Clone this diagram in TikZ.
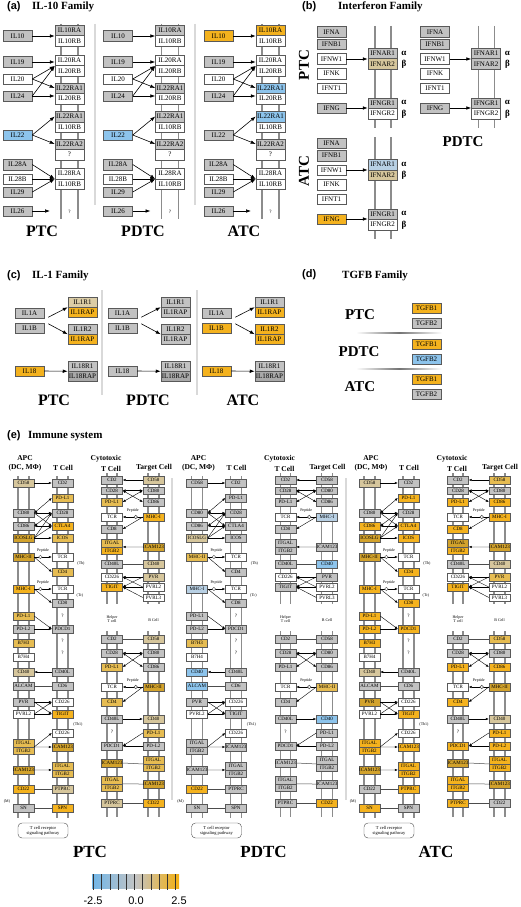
\documentclass[tikz,border=0pt]{standalone}
\usepackage{fontspec}
\setmainfont{Liberation Serif}
\newfontfamily\arial{Liberation Sans}
\usetikzlibrary{arrows.meta,calc}
\definecolor{cG}{HTML}{C2C2C2}
\definecolor{cGd}{HTML}{A9A9A9}
\definecolor{cO1}{HTML}{F4B21E}
\definecolor{cO2}{HTML}{E6BC52}
\definecolor{cO3}{HTML}{D2A22C}
\definecolor{cT}{HTML}{D6C69C}
\definecolor{cTL}{HTML}{DCCDA6}
\definecolor{cB}{HTML}{8DC4EC}
\definecolor{cLB}{HTML}{B8D0E4}
\definecolor{cW}{HTML}{FFFFFF}
\definecolor{cbB}{HTML}{70B6E8}
\definecolor{cbG}{HTML}{C4C4C4}
\definecolor{cbO}{HTML}{F4B010}
\tikzset{
 bx/.style={draw=black!65, line width=0.5pt, minimum width=29pt, minimum height=10.5pt, inner sep=0pt, font=\fontsize{7}{7}\selectfont},
 ib/.style={draw=black!65, line width=0.4pt, minimum width=21pt, minimum height=7.5pt, inner sep=0pt, font=\fontsize{5}{5}\selectfont},
 mem/.style={draw=black!45, line width=1.8pt},
 memi/.style={draw=black!45, line width=1.3pt},
 ar/.style={-{Latex[length=5pt,width=3.6pt]}, line width=0.6pt},
 ai/.style={-{Latex[length=3pt,width=2.4pt]}, line width=0.4pt},
 aib/.style={{Latex[length=3pt,width=2.4pt]}-{Latex[length=3pt,width=2.4pt]}, line width=0.4pt},
 ln/.style={line width=0.5pt, draw=black!70},
 pc/.style={circle, draw=black!70, fill=white, inner sep=0pt, minimum size=3.5pt, line width=0.4pt},
 big/.style={font=\fontsize{16}{16}\selectfont\bfseries, inner sep=0pt},
 ttl/.style={font=\fontsize{11}{11}\selectfont\bfseries, anchor=west, inner sep=0pt},
 plab/.style={font=\arial\bfseries\fontsize{11}{11}\selectfont, anchor=west, inner sep=0pt},
 tiny/.style={font=\fontsize{4}{4.5}\selectfont, inner sep=0pt},
 qm/.style={font=\fontsize{5}{5}\selectfont, inner sep=0pt},
 hdr/.style={font=\fontsize{7.5}{8}\selectfont\bfseries, inner sep=0pt},
 ab/.style={font=\fontsize{9}{9}\selectfont\bfseries, inner sep=0pt},
 sep/.style={draw=black!15, line width=1.2pt}
}
\newcommand\setcols[1]{\foreach \n/\c in {#1}{\xglobal\colorlet{q\n}{\c}}}
\newcommand\pepR[2]{\draw[ai] (#1.east) -- (#2.west);
 \node[pc] at ($(#1.east)!0.35!(#2.west)$) {};
 \node[tiny] at ($(#1.east)!0.5!(#2.west)+(0,-6.5)$) {Peptide};}
\newcommand\pepL[2]{\draw[ai] (#1.west) -- (#2.east);
 \node[pc] at ($(#1.west)!0.35!(#2.east)$) {};
 \node[tiny] at ($(#1.west)!0.5!(#2.east)+(0,-6.5)$) {Peptide};}
% ---------- panel a
\newcommand\panelA[7]{%
\begin{scope}[shift={(#2,0)}]
\draw[mem] (61,24) -- (61,219); \draw[mem] (78,24) -- (78,219);
\node[bx,fill=#3] (#1l10) at (17.5,36) {IL10};
\node[bx,fill=cG] (#1l19) at (17.5,62) {IL19};
\node[bx,fill=white] (#1l20) at (17.5,79) {IL20};
\node[bx,fill=cG] (#1l24) at (17.5,96) {IL24};
\node[bx,fill=#7] (#1l22) at (17.5,135) {IL22};
\node[bx,fill=cG] (#1l28a) at (17.5,164.5) {IL28A};
\node[bx,fill=white] (#1l28b) at (17.5,179) {IL28B};
\node[bx,fill=cG] (#1l29) at (17.5,192) {IL29};
\node[bx,fill=cG] (#1l26) at (17.5,211) {IL26};
\node[bx,fill=#4] (#1r1) at (69.5,30.25) {IL10RA};
\node[bx,fill=white] (#1r2) at (69.5,40.75) {IL10RB};
\node[bx,fill=white] (#1r3) at (69.5,60.5) {IL20RA};
\node[bx,fill=white] (#1r4) at (69.5,71) {IL20RB};
\node[bx,fill=#5] (#1r5) at (69.5,88) {IL22RA1};
\node[bx,fill=white] (#1r6) at (69.5,98.5) {IL20RB};
\node[bx,fill=#6] (#1r7) at (69.5,116.5) {IL22RA1};
\node[bx,fill=white] (#1r8) at (69.5,127) {IL10RB};
\node[bx,fill=cG] (#1r9) at (69.5,144) {IL22RA2};
\node[bx,fill=white] (#1r10) at (69.5,154.5) {?};
\node[bx,fill=white] (#1r11) at (69.5,173.5) {IL28RA};
\node[bx,fill=white] (#1r12) at (69.5,184) {IL10RB};
\node[qm] (#1q) at (69.5,212) {?};
\coordinate (#1e26) at (50,211);
\draw[ar] (#1l10.east) -- (#1l10.east -| #1r1.west);
\draw[ar] (#1l19.east) -- (#1l19.east -| #1r3.west);
\draw[ar] (#1l20.east) -- (#1r3.south west);
\draw[ar] (#1l20.east) -- (#1r5.west);
\draw[ar] (#1l24.east) -- (#1r3.south west);
\draw[ar] (#1l24.east) -- (#1l24.east -| #1r6.west);
\draw[ar] (#1l22.east) -- (#1r7.west);
\draw[ar] (#1l22.east) -- (#1r9.west);
\draw[ar] (#1l28a.east) -- (#1r11.south west);
\draw[ar] (#1l28b.east) -- (#1r11.south west);
\draw[ar] (#1l29.east) -- (#1r11.south west);
\draw[ar] (#1l26.east) -- (#1e26);
\end{scope}}
% ---------- panel b
\newcommand\panelB[7]{%
\begin{scope}[shift={(#2,#3)}]
\draw[mem] (375,26) -- (375,128); \draw[mem] (391,26) -- (391,128);
\node[bx,fill=cG] (#1ia) at (331.5,32) {IFNA};
\node[bx,fill=cG] (#1ib) at (331.5,44.5) {IFNB1};
\node[bx,fill=white] (#1iw) at (331.5,59) {IFNW1};
\node[bx,fill=white] (#1ik) at (331.5,73.5) {IFNK};
\node[bx,fill=white] (#1it) at (331.5,88) {IFNT1};
\node[bx,fill=#4] (#1ig) at (331.5,108) {IFNG};
\node[bx,fill=#5] (#1ra1) at (382.5,53.5) {IFNAR1};
\node[bx,fill=#6] (#1ra2) at (382.5,64) {IFNAR2};
\node[bx,fill=#7] (#1rg1) at (382.5,103) {IFNGR1};
\node[bx,fill=white] (#1rg2) at (382.5,113.5) {IFNGR2};
\node[ab] at (404,53) {α}; \node[ab] at (404,64.5) {β};
\node[ab] at (404,102.5) {α}; \node[ab] at (404,114) {β};
\draw[ar] (#1iw.east) -- (#1iw.east -| #1ra1.west);
\draw[ar] (#1ig.east) -- (#1ig.east -| #1rg1.west);
\end{scope}}
% ---------- panel c
\newcommand\panelC[8]{%
\begin{scope}[shift={(#2,0)}]
\node[bx,minimum height=10pt,fill=cG] (#1a) at (29.5,313) {IL1A};
\node[bx,minimum height=10pt,fill=#3] (#1b) at (29.5,328) {IL1B};
\node[bx,minimum height=10pt,fill=#4] (#1c) at (29.5,371) {IL18};
\node[bx,minimum height=10pt,fill=#5] (#1r1) at (82.5,302) {IL1R1};
\node[bx,minimum height=10pt,fill=#6] (#1r2) at (82.5,312) {IL1RAP};
\node[bx,minimum height=10pt,fill=#7] (#1r3) at (82.5,329) {IL1R2};
\node[bx,minimum height=10pt,fill=#8] (#1r4) at (82.5,339) {IL1RAP};
\node[bx,minimum height=10pt,fill=cG] (#1r5) at (82.5,366) {IL18R1};
\node[bx,minimum height=10pt,fill=cGd] (#1r6) at (82.5,376) {IL18RAP};
\draw[ar] ($(#1a.south east)+(4,-1)$) -- (#1r1.south west);
\draw[ar] ($(#1b.north east)+(4,1)$) -- (#1r3.south west);
\draw[ar] (#1c.east) -- (#1r5.south west);
\end{scope}}
% ---------- panel e
\newcommand\immune[3]{%
\begin{scope}[shift={(#2,0)}]
\foreach \x in {18,29,57,68} {\draw[memi] (\x,476) -- (\x,818);}
\foreach \x in {107,117,148,159} {\draw[memi] (\x,473) -- (\x,604); \draw[memi] (\x,631) -- (\x,817);}
\node[hdr] at (25,458) {APC};
\node[hdr] at (25,467.5) {(DC, MΦ)};
\node[hdr] at (63,467.5) {T Cell};
\node[hdr] at (106,459) {Cytotoxic};
\node[hdr] at (111,468.5) {T Cell};
\node[hdr] at (154,467.5) {Target Cell};
% APC
\node[ib,fill=qA1] (#1a1) at (23.5,483) {CD58};
\node[ib,fill=qA2] (#1a2) at (23.5,513) {CD80};
\node[ib,fill=qA3] (#1a3) at (23.5,526) {CD86};
\node[ib,fill=qA4] (#1a4) at (23.5,538) {ICOSLG};
\node[ib,fill=qA5] (#1a5) at (23.5,557) {MHC-II};
\node[ib,fill=qA6] (#1a6) at (23.5,589) {MHC-I};
\node[ib,fill=qA7] (#1a7) at (23.5,616) {PD-L1};
\node[ib,fill=qA8] (#1a8) at (23.5,629) {PD-L2};
\node[ib,fill=qA9] (#1a9) at (23.5,643) {B7H3};
\node[ib,fill=white] (#1a10) at (23.5,657) {B7H4};
\node[ib,fill=qA11] (#1a11) at (23.5,672) {CD40};
\node[ib,fill=qA12] (#1a12) at (23.5,686) {ALCAM};
\node[ib,fill=qA13] (#1a13) at (23.5,702) {PVR};
\node[ib,fill=white] (#1a14) at (23.5,714) {PVRL2};
\node[ib,fill=qA15] (#1a15) at (23.5,743) {ITGAL};
\node[ib,fill=qA16] (#1a16) at (23.5,750.5) {ITGB2};
\node[ib,fill=qA17] (#1a17) at (23.5,770) {ICAM123};
\node[ib,fill=qA18] (#1a18) at (23.5,789) {CD22};
\node[ib,fill=qA19] (#1a19) at (23.5,808) {SN};
% T cell
\node[ib,fill=qT1] (#1t1) at (62.5,483) {CD2};
\node[ib,fill=qT2] (#1t2) at (62.5,498) {PD-L1};
\node[ib,fill=qT3] (#1t3) at (62.5,513) {CD28};
\node[ib,fill=qT4] (#1t4) at (62.5,526) {CTLA4};
\node[ib,fill=qT5] (#1t5) at (62.5,538) {ICOS};
\node[ib,fill=white] (#1tcra) at (62.5,557) {TCR};
\node[ib,fill=qT6] (#1t6) at (62.5,572) {CD4};
\node[ib,fill=white] (#1tcrb) at (62.5,589) {TCR};
\node[ib,fill=qT7] (#1t7) at (62.5,603) {CD8};
\node[qm] at (62.5,616) {?};
\node[ib,fill=qT8] (#1t8) at (62.5,629) {PDCD1};
\node[qm] at (62.5,641) {?};
\node[qm] at (62.5,653) {?};
\node[ib,fill=qT9] (#1t9) at (62.5,672) {CD40L};
\node[ib,fill=qT10] (#1t10) at (62.5,686) {CD6};
\node[ib,fill=white] (#1cda) at (62.5,702) {CD226};
\node[ib,fill=qT11] (#1t11) at (62.5,714) {TIGIT};
\node[ib,fill=white] (#1cdb) at (62.5,733) {CD226};
\node[ib,fill=qT12] (#1t12) at (62.5,747) {ICAM123};
\node[ib,fill=qT13] (#1t13) at (62.5,766) {ITGAL};
\node[ib,fill=qT14] (#1t14) at (62.5,773.5) {ITGB2};
\node[ib,fill=qT15] (#1t15) at (62.5,789) {PTPRC};
\node[ib,fill=qT16] (#1t16) at (62.5,808) {SPN};
\draw[ai] (#1a1.east) -- (#1t1.west);
\draw[aib] (#1a2.east) -- (#1t2.west);
\draw[aib] (#1a2.east) -- (#1t3.west);
\draw[ai] (#1a2.east) -- (#1t4.west);
\draw[aib] (#1a3.east) -- (#1t3.west);
\draw[aib] (#1a3.east) -- (#1t4.west);
\draw[ai] (#1a4.east) -- (#1t3.west);
\draw[ai] (#1a4.east) -- (#1t4.west);
\draw[ai] (#1a4.east) -- (#1t5.west);
\pepR{#1a5}{#1tcra}
\draw[ai] (#1a5.east) -- (#1t6.west);
\pepR{#1a6}{#1tcrb}
\draw[ai] (#1a6.east) -- (#1t7.west);
\draw[ai] (#1a7.east) -- (#1t8.west);
\draw[ai] (#1a8.east) -- (#1t8.west);
\draw[ai] (#1t9.west) -- (#1a11.east);
\draw[ln] (#1a12.east) -- (#1t10.west);
\draw[ai] (#1a13.east) -- (#1cda.west);
\draw[ai] (#1a13.east) -- (#1t11.west);
\draw[ai] (#1a14.east) -- (#1cda.west);
\draw[ai] (#1a14.east) -- (#1t11.west);
\draw[ai] (#1a15.south east) -- (#1cdb.west);
\draw[ai] (#1a15.south east) -- (#1t12.west);
\draw[ai] (#1a17.east) -- (#1t13.south west);
\draw[ln] (#1a18.east) -- (#1t15.west);
\draw[ln] (#1a19.east) -- (#1t16.west);
\node[tiny] at (81,564) {(Th)};
\node[tiny] at (80,596) {(Tc)};
\node[tiny] at (78,725) {(Th1)};
\node[tiny] at (7,802) {(M)};
\node[draw=black!70, rounded corners=4pt, fill=white, minimum width=50pt, minimum height=15pt, align=center, font=\fontsize{4.5}{5}\selectfont, inner sep=1pt] (#1tcp) at (43,830.5) {T cell receptor\\signaling pathway};
% cytotoxic / target
\node[ib,fill=qC1] (#1c1) at (112,480) {CD2};
\node[ib,fill=qC2] (#1c2) at (112,490.5) {CD28};
\node[ib,fill=qC3] (#1c3) at (112,502) {PD-L1};
\node[ib,fill=white] (#1ctcr) at (112,517) {TCR};
\node[ib,fill=qC4] (#1c4) at (112,529) {CD8};
\node[ib,fill=qC5] (#1c5) at (112,543) {ITGAL};
\node[ib,fill=qC6] (#1c6) at (112,550.5) {ITGB2};
\node[ib,fill=qC7] (#1c7) at (112,564) {CD40L};
\node[ib,fill=white] (#1ccd) at (112,577) {CD226};
\node[ib,fill=qC8] (#1c8) at (112,587) {TIGIT};
\node[ib,fill=qG1] (#1g1) at (153.5,480) {CD58};
\node[ib,fill=qG2] (#1g2) at (153.5,490.5) {CD80};
\node[ib,fill=qG3] (#1g3) at (153.5,502) {CD86};
\node[ib,fill=qG4] (#1g4) at (153.5,517) {MHC-I};
\node[ib,fill=qG5] (#1g5) at (153.5,547) {ICAM123};
\node[ib,fill=qG6] (#1g6) at (153.5,564) {CD40};
\node[ib,fill=qG7] (#1g7) at (153.5,577) {PVR};
\node[ib,fill=white] (#1g8) at (153.5,587) {PVRL2};
\node[ib,fill=white] (#1g9) at (153.5,597.5) {PVRL3};
\draw[ai] (#1g1.west) -- (#1c1.east);
\draw[aib] (#1g2.west) -- (#1c2.east);
\draw[aib] (#1g2.west) -- (#1c3.east);
\draw[aib] (#1g3.west) -- (#1c2.east);
\pepL{#1g4}{#1ctcr}
\draw[ai] (#1g4.west) -- (#1c4.east);
\draw[ai] (#1g5.west) -- (#1c5.south east);
\draw[ln] (#1c7.east) -- (#1g6.west);
\draw[ai] (#1g7.west) -- (#1ccd.east);
\draw[ai] (#1g7.west) -- (#1c8.east);
\draw[ai] (#1g8.west) -- (#1ccd.east);
\draw[ai] (#1g8.west) -- (#1c8.east);
\draw[ai] (#1g9.west) -- (#1c8.east);
% helper / B
\node[tiny,align=center] at (112,619) {Helper\\T cell};
\node[tiny] at (153.5,620) {B Cell};
\node[ib,fill=qH1] (#1h1) at (112,639) {CD2};
\node[ib,fill=qH2] (#1h2) at (112,653) {CD28};
\node[ib,fill=qH3] (#1h3) at (112,667) {PD-L1};
\node[ib,fill=white] (#1htcr) at (112,687) {TCR};
\node[ib,fill=qH4] (#1h4) at (112,702) {CD4};
\node[ib,fill=qH5] (#1h5) at (112,719) {CD40L};
\node[qm] at (112,732) {?};
\node[ib,fill=qH6] (#1h6) at (112,746) {PDCD1};
\node[ib,fill=qH7] (#1h7) at (112,763) {ICAM123};
\node[ib,fill=qH8] (#1h8) at (112,780) {ITGAL};
\node[ib,fill=qH9] (#1h9) at (112,787.5) {ITGB2};
\node[ib,fill=qH10] (#1h10) at (112,803) {PTPRC};
\node[ib,fill=qB1] (#1b1) at (153.5,639) {CD58};
\node[ib,fill=qB2] (#1b2) at (153.5,653) {CD80};
\node[ib,fill=qB3] (#1b3) at (153.5,667) {CD86};
\node[ib,fill=qB4] (#1b4) at (153.5,687) {MHC-II};
\node[ib,fill=qB5] (#1b5) at (153.5,719) {CD40};
\node[ib,fill=qB6] (#1b6) at (153.5,733) {PD-L1};
\node[ib,fill=qB7] (#1b7) at (153.5,746) {PD-L2};
\node[ib,fill=qB8] (#1b8) at (153.5,760) {ITGAL};
\node[ib,fill=qB9] (#1b9) at (153.5,767.5) {ITGB2};
\node[ib,fill=qB10] (#1b10) at (153.5,784) {ICAM123};
\node[ib,fill=qB11] (#1b11) at (153.5,803) {CD22};
\draw[ln] (#1h1.east) -- (#1b1.west);
\draw[aib] (#1b2.west) -- (#1h2.east);
\draw[aib] (#1b2.west) -- (#1h3.east);
\draw[aib] (#1b3.west) -- (#1h2.east);
\pepL{#1b4}{#1htcr}
\draw[ai] (#1b4.west) -- (#1h4.east);
\draw[ai] (#1h5.east) -- (#1b5.west);
\draw[ai] (#1b6.west) -- (#1h6.east);
\draw[ai] (#1b7.west) -- (#1h6.east);
\draw[ln] (#1h7.east) -- (#1b8.south west);
\draw[ln] (#1h8.south east) -- (#1b10.west);
\draw[ln] (#1h10.east) -- (#1b11.west);
\node[big,font=\fontsize{17}{17}\selectfont\bfseries] (#1lab) at (90,852) {#3};
\end{scope}}
\begin{document}
\begin{tikzpicture}[x=1pt,y=-1pt]
\useasboundingbox[fill=white] (0,0) rectangle (520,907);
% ===== (a)
\node[plab] (ta) at (7,7) {(a)};
\node[ttl] (tta) at (32,7) {IL-10 Family};
\draw[sep] (95,24) -- (95,205); \draw[sep] (195,24) -- (195,205);
\panelA{ap}{0}{cG}{cG}{cG}{cG}{cB}
\panelA{ad}{100.5}{cG}{cG}{cG}{cG}{cB}
\panelA{aa}{201}{cO1}{cO1}{cB}{cB}{cG}
\node[big] (la1) at (42,231) {PTC};
\node[big] (la2) at (143,231) {PDTC};
\node[big] (la3) at (244,231) {ATC};
% ===== (b)
\node[plab] (tb) at (302,7) {(b)};
\node[ttl] (ttb) at (338,7) {Interferon Family};
\panelB{bp}{0}{0}{cG}{cG}{cT}{cG}
\panelB{bd}{103.5}{0}{cG}{cG}{cG}{cG}
\panelB{ba}{0}{111}{cO1}{cLB}{cT}{cG}
\node[big,font=\fontsize{15}{15}\selectfont\bfseries,rotate=90] (lb1) at (304,65) {PTC};
\node[big,font=\fontsize{15}{15}\selectfont\bfseries] (lb2) at (463,142) {PDTC};
\node[big,font=\fontsize{15}{15}\selectfont\bfseries,rotate=90] (lb3) at (304,171) {ATC};
% ===== (c)
\node[plab] (tc) at (7,276) {(c)};
\node[ttl] (ttc) at (32,276) {IL-1 Family};
\draw[sep] (102,290) -- (102,395); \draw[sep] (197,290) -- (197,395);
\panelC{cp}{0}{cG}{cO1}{cTL}{cO1}{cG}{cO1}
\panelC{cd}{93}{cG}{cG}{cG}{cG}{cG}{cG}
\panelC{ca}{187}{cO1}{cO1}{cG}{cO1}{cO1}{cO1}
\node[big] (lc1) at (54,400) {PTC};
\node[big] (lc2) at (148,400) {PDTC};
\node[big] (lc3) at (243,400) {ATC};
% ===== (d)
\node[plab] (td) at (302,275) {(d)};
\node[ttl] (ttd) at (342,276) {TGFB Family};
\node[big,font=\fontsize{15}{15}\selectfont\bfseries] (ld1) at (360,315) {PTC};
\node[big,font=\fontsize{15}{15}\selectfont\bfseries] (ld2) at (359,351.5) {PDTC};
\node[big,font=\fontsize{15}{15}\selectfont\bfseries] (ld3) at (360,387) {ATC};
\node[bx,minimum height=10pt,fill=cO1] (d1) at (426.5,308) {TGFB1};
\node[bx,minimum height=10pt,fill=cG] (d2) at (426.5,323) {TGFB2};
\node[bx,minimum height=10pt,fill=cO1] (d3) at (426.5,344) {TGFB1};
\node[bx,minimum height=10pt,fill=cB] (d4) at (426.5,359) {TGFB2};
\node[bx,minimum height=10pt,fill=cO1] (d5) at (426.5,379) {TGFB1};
\node[bx,minimum height=10pt,fill=cG] (d6) at (426.5,394) {TGFB2};
\shade[left color=white, right color=white, middle color=black!55] (356,332.6) rectangle (442,333.6);
\shade[left color=white, right color=white, middle color=black!55] (356,368.6) rectangle (442,369.6);
% ===== (e)
\node[plab] (te) at (7,436) {(e)};
\node[ttl] (tte) at (28,436) {Immune system};
\draw[sep] (172,478) -- (172,800); \draw[sep] (346,478) -- (346,800);
\setcols{A1/cT,A2/cG,A3/cG,A4/cO3,A5/cO3,A6/cO1,A7/cO2,A8/cG,A9/cO2,A11/cT,A12/cG,A13/cG,A15/cO2,A16/cO2,A17/cO3,A18/cO1,A19/cG,
T1/cG,T2/cO2,T3/cG,T4/cO1,T5/cO2,T6/cO2,T7/cG,T8/cG,T9/cG,T10/cG,T11/cO1,T12/cO3,T13/cO2,T14/cO2,T15/cT,T16/cO1,
C1/cG,C2/cG,C3/cO2,C4/cG,C5/cO2,C6/cO1,C7/cG,C8/cO1,
G1/cT,G2/cG,G3/cG,G4/cO1,G5/cO3,G6/cT,G7/cT,
H1/cG,H2/cG,H3/cO2,H4/cO2,H5/cG,H6/cG,H7/cO3,H8/cO2,H9/cO2,H10/cT,
B1/cT,B2/cG,B3/cG,B4/cO3,B5/cT,B6/cO2,B7/cG,B8/cO2,B9/cO2,B10/cO3,B11/cO1}
\immune{ep}{0}{PTC}
\setcols{A1/cG,A2/cG,A3/cG,A4/cT,A5/cO2,A6/cLB,A7/cG,A8/cG,A9/cO2,A11/cB,A12/cB,A13/cG,A15/cG,A16/cG,A17/cG,A18/cO1,A19/cG,
T1/cG,T2/cG,T3/cG,T4/cG,T5/cG,T6/cG,T7/cG,T8/cG,T9/cG,T10/cG,T11/cG,T12/cG,T13/cG,T14/cG,T15/cG,T16/cG,
C1/cG,C2/cG,C3/cG,C4/cG,C5/cG,C6/cG,C7/cG,C8/cG,
G1/cG,G2/cG,G3/cG,G4/cLB,G5/cG,G6/cB,G7/cG,
H1/cG,H2/cG,H3/cG,H4/cG,H5/cG,H6/cG,H7/cG,H8/cG,H9/cG,H10/cG,
B1/cG,B2/cG,B3/cG,B4/cO2,B5/cB,B6/cG,B7/cG,B8/cG,B9/cG,B10/cG,B11/cO1}
\immune{ed}{173.5}{PDTC}
\setcols{A1/cT,A2/cG,A3/cO1,A4/cO3,A5/cO3,A6/cO1,A7/cO1,A8/cO1,A9/cO1,A11/cT,A12/cG,A13/cO3,A15/cO1,A16/cO1,A17/cO3,A18/cG,A19/cO1,
T1/cG,T2/cO1,T3/cG,T4/cO1,T5/cO1,T6/cO1,T7/cO1,T8/cO1,T9/cG,T10/cG,T11/cO1,T12/cO1,T13/cO1,T14/cO1,T15/cO1,T16/cG,
C1/cG,C2/cG,C3/cO1,C4/cO1,C5/cO3,C6/cO1,C7/cG,C8/cO1,
G1/cO2,G2/cG,G3/cO1,G4/cO1,G5/cO3,G6/cT,G7/cO2,
H1/cG,H2/cG,H3/cO1,H4/cO1,H5/cG,H6/cO1,H7/cO3,H8/cO1,H9/cO1,H10/cO1,
B1/cO2,B2/cG,B3/cO1,B4/cO3,B5/cT,B6/cO1,B7/cO1,B8/cO1,B9/cO1,B10/cO3,B11/cG}
\immune{ea}{346}{ATC}
% ===== colour bar
\shade[left color=cbB, right color=cbG] (92,874) rectangle (135.5,888);
\shade[left color=cbG, right color=cbO] (135.5,874) rectangle (179,888);
\foreach \k in {0,...,10} {\draw[black!80, line width=0.45pt] (93.5+\k*8.2,874) -- (93.5+\k*8.2,890);}
\node[font=\arial\fontsize{11}{11}\selectfont, inner sep=0pt] (cb1) at (93,901) {-2.5};
\node[font=\arial\fontsize{11}{11}\selectfont, inner sep=0pt] (cb2) at (136,901) {0.0};
\node[font=\arial\fontsize{11}{11}\selectfont, inner sep=0pt] (cb3) at (179,901) {2.5};
\end{tikzpicture}
\end{document}
